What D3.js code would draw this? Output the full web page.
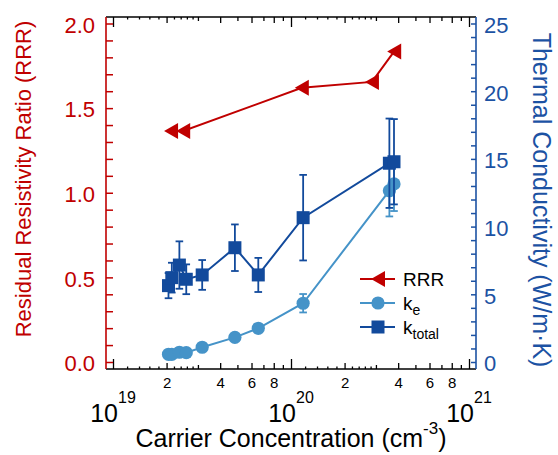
<!DOCTYPE html>
<html><head><meta charset="utf-8">
<script src="https://cdn.jsdelivr.net/npm/d3@7"></script>
<style>
body{margin:0;background:#fff}
text{font-family:"Liberation Sans",Arial,Helvetica,sans-serif}
</style>
</head><body>
<svg id="c" width="558" height="455"></svg>
<script>
// ---- data ----
const rrrX = [2.12e19, 2.48e19, 1.15e20, 2.85e20, 3.8e20];
const rrrY = [1.365, 1.365, 1.62, 1.655, 1.835];

const kX   = [2.05e19, 2.14e19, 2.36e19, 2.58e19, 3.17e19, 4.84e19, 6.55e19, 1.17e20, 3.57e20, 3.79e20];
const keY  = [0.57, 0.57, 0.72, 0.69, 1.09, 1.82, 2.49, 4.34, 12.65, 13.15];
const keErr= [0.05, 0.05, 0.06, 0.06, 0.08, 0.12, 0.2, 0.68, 1.9, 2.0];
const ktY  = [5.64, 6.23, 7.16, 6.11, 6.43, 8.44, 6.43, 10.66, 14.68, 14.79];
const ktErr= [0.93, 1.1, 1.75, 1.1, 1.1, 1.72, 1.26, 3.16, 3.3, 3.15];

const leftTicks = d3.range(0, 21).map(i => i / 10);
const leftLabels = [0, 0.5, 1.0, 1.5, 2.0];
const rightTicks = d3.range(0, 26);
const rightLabels = [0, 5, 10, 15, 20, 25];
const decades = [19, 20, 21];
const mantLabels = [2, 4, 6, 8];
const mantOdd = [3, 5, 7, 9];
const mantSub = [1.2, 1.4, 1.6, 1.8, 2.2, 2.4, 2.6, 2.8];

const legendNames = ["RRR", "k", "k"];
const legendSubs = ["", "e", "total"];

// ---- colors ----
const RED = "#c00000", DARK = "#124a9c", LIGHT = "#4593c8", AXB = "#1c52a3";

// ---- layout ----
const L = 106, R = 476, T = 17, B = 369;
const svg = d3.select("#c");

const x = d3.scaleLog().domain([Math.pow(10, 19 - 7/178), Math.pow(10, 21 + 7/178)]).range([L, R]);
const yL = d3.scaleLinear().domain([-7/169.25, (362 - 17)/169.25]).range([B, T]);
const yR = d3.scaleLinear().domain(yL.domain().map(v => v * 12.5)).range([B, T]);

// x tick tiers
const majorV = decades.map(d => Math.pow(10, d));
const evenV = [], oddV = [], subV = [];
[19, 20].forEach(d => {
  mantLabels.forEach(m => evenV.push(m * Math.pow(10, d)));
  mantOdd.forEach(m => oddV.push(m * Math.pow(10, d)));
  mantSub.forEach(m => subV.push(m * Math.pow(10, d)));
});
function tier(vals, len, labels) {
  const gb = svg.append("g").attr("transform", `translate(0,${B})`)
    .call(d3.axisBottom(x).tickValues(vals).tickSizeInner(-len).tickSizeOuter(0)
      .tickPadding(8.3).tickFormat(labels ? (v => String(Math.round(v / Math.pow(10, Math.floor(Math.log10(v) + 1e-9))))) : () => ""));
  gb.select(".domain").remove();
  gb.selectAll("line").attr("stroke", "#000").attr("stroke-width", 1.3);
  gb.selectAll("text").attr("font-size", 15).attr("fill", "#000");
  const gt = svg.append("g").attr("transform", `translate(0,${T})`)
    .call(d3.axisTop(x).tickValues(vals).tickSizeInner(-len).tickSizeOuter(0).tickFormat(() => ""));
  gt.select(".domain").remove();
  gt.selectAll("line").attr("stroke", "#000").attr("stroke-width", 1.3);
}
tier(majorV, 10, false);
tier(evenV, 6, true);
tier(oddV, 4, false);
tier(subV, 2.5, false);

// decade labels
decades.forEach(d => {
  const t = svg.append("text").attr("x", x(Math.pow(10, d))).attr("y", 421.7)
    .attr("text-anchor", "middle").attr("fill", "#000");
  t.append("tspan").attr("font-size", 25).text("10");
  t.append("tspan").attr("font-size", 16).attr("dy", -19).text(String(d));
});

// frame lines
svg.append("line").attr("x1", L).attr("x2", R).attr("y1", B).attr("y2", B).attr("stroke", "#000").attr("stroke-width", 1.5);
svg.append("line").attr("x1", L).attr("x2", R).attr("y1", T).attr("y2", T).attr("stroke", "#000").attr("stroke-width", 1.5);

// left axis
const gl = svg.append("g").attr("transform", `translate(${L},0)`)
  .call(d3.axisLeft(yL).tickValues(leftTicks).tickSizeInner(-7).tickSizeOuter(0).tickPadding(11)
    .tickFormat(v => leftLabels.some(l => Math.abs(l - v) < 1e-6) ? d3.format(".1f")(v) : ""));
gl.select(".domain").remove();
gl.selectAll("line").attr("stroke", RED).attr("stroke-width", 1.5);
gl.selectAll("text").attr("font-size", 22).attr("fill", RED).attr("dy", "0.4em");
svg.append("line").attr("x1", L).attr("x2", L).attr("y1", T).attr("y2", B).attr("stroke", RED).attr("stroke-width", 1.6);

// right axis
const gr = svg.append("g").attr("transform", `translate(${R},0)`)
  .call(d3.axisRight(yR).tickValues(rightTicks).tickSizeInner(-5).tickSizeOuter(0).tickPadding(8)
    .tickFormat(v => rightLabels.includes(v) ? String(v) : ""));
gr.select(".domain").remove();
gr.selectAll("line").attr("stroke", AXB).attr("stroke-width", 1.5);
gr.selectAll("text").attr("font-size", 22).attr("fill", AXB).attr("dy", "0.4em");
svg.append("line").attr("x1", R).attr("x2", R).attr("y1", T).attr("y2", B).attr("stroke", AXB).attr("stroke-width", 1.6);

// titles
svg.append("text").attr("transform", "translate(31,179) rotate(-90)").attr("text-anchor", "middle")
  .attr("font-size", 22).attr("fill", RED).text("Residual Resistivity Ratio (RRR)");
svg.append("text").attr("transform", "translate(533,200) rotate(90)").attr("text-anchor", "middle")
  .attr("font-size", 25).attr("fill", AXB).text("Thermal Conductivity (W/m\u00B7K)");
const xt = svg.append("text").attr("x", 291).attr("y", 447).attr("text-anchor", "middle").attr("fill", "#000");
xt.append("tspan").attr("font-size", 25).text("Carrier Concentration (cm");
xt.append("tspan").attr("font-size", 17).attr("dy", -13).text("-3");
xt.append("tspan").attr("font-size", 25).attr("dy", 13).text(")");

// ---- series ----
const line = (xs, ys, sc) => d3.line()(xs.map((v, i) => [x(v), sc(ys[i])]));
const triPath = "M-7,0L7,-8L7,8Z";

function errBars(vals, errs, color) {
  const g = svg.append("g").attr("stroke", color).attr("stroke-width", 1.8).attr("fill", "none");
  kX.forEach((xv, i) => {
    const cx = x(xv), y1 = yR(vals[i] - errs[i]), y2 = yR(vals[i] + errs[i]);
    g.append("line").attr("x1", cx).attr("x2", cx).attr("y1", y1).attr("y2", y2);
    g.append("line").attr("x1", cx - 3.8).attr("x2", cx + 3.8).attr("y1", y1).attr("y2", y1);
    g.append("line").attr("x1", cx - 3.8).attr("x2", cx + 3.8).attr("y1", y2).attr("y2", y2);
  });
}

// k_e
svg.append("path").attr("d", line(kX, keY, yR)).attr("fill", "none").attr("stroke", LIGHT).attr("stroke-width", 2);
errBars(keY, keErr, LIGHT);
svg.append("g").selectAll("circle").data(kX).join("circle")
  .attr("cx", d => x(d)).attr("cy", (d, i) => yR(keY[i])).attr("r", 6.6).attr("fill", LIGHT);

// k_total
svg.append("path").attr("d", line(kX, ktY, yR)).attr("fill", "none").attr("stroke", DARK).attr("stroke-width", 2);
errBars(ktY, ktErr, DARK);
svg.append("g").selectAll("rect").data(kX).join("rect")
  .attr("x", d => x(d) - 6.5).attr("y", (d, i) => yR(ktY[i]) - 6.5).attr("width", 13).attr("height", 13).attr("fill", DARK);

// RRR
svg.append("path").attr("d", line(rrrX, rrrY, yL)).attr("fill", "none").attr("stroke", RED).attr("stroke-width", 2);
svg.append("g").selectAll("path").data(rrrX).join("path")
  .attr("d", triPath).attr("transform", (d, i) => `translate(${x(d)},${yL(rrrY[i])})`).attr("fill", RED);

// ---- legend ----
const legColors = [RED, LIGHT, DARK];
const legY = [279, 303, 327];
legendNames.forEach((name, i) => {
  const yy = legY[i];
  svg.append("line").attr("x1", 360).attr("x2", 395).attr("y1", yy).attr("y2", yy).attr("stroke", legColors[i]).attr("stroke-width", 2);
  if (i === 0) svg.append("path").attr("d", triPath).attr("transform", `translate(378,${yy})`).attr("fill", RED);
  if (i === 1) svg.append("circle").attr("cx", 378).attr("cy", yy).attr("r", 6.6).attr("fill", LIGHT);
  if (i === 2) svg.append("rect").attr("x", 371.5).attr("y", yy - 6.5).attr("width", 13).attr("height", 13).attr("fill", DARK);
  const t = svg.append("text").attr("x", 403).attr("y", yy + 7).attr("fill", "#000");
  t.append("tspan").attr("font-size", 19).text(name);
  if (legendSubs[i]) t.append("tspan").attr("font-size", 14).attr("dy", 5).text(legendSubs[i]);
});
</script>
</body></html>
